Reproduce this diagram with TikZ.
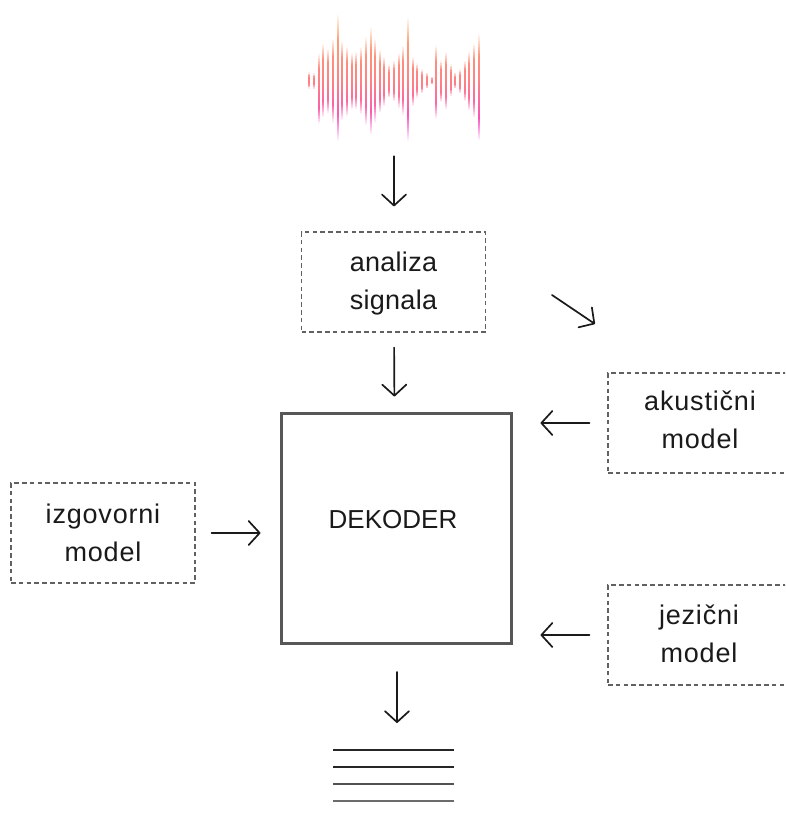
\documentclass[tikz,border=0pt]{standalone}
\usepackage{fontspec}
\setmainfont{Liberation Sans}
\newfontfamily\widesans[LetterSpace=3]{Liberation Sans}
\newfontfamily\midsans[LetterSpace=1]{Liberation Sans}
\usetikzlibrary{arrows.meta}
\definecolor{ink}{HTML}{1A1A1A}
\tikzset{
  dashbox/.style={draw=black!62,line width=1.2pt,dash pattern=on 4.6pt off 3.2pt,minimum width=184pt,minimum height=100pt,inner sep=0pt},
  lbl/.style={inner sep=0pt,align=center,text=ink,font=\widesans\fontsize{27}{38}\selectfont},
  decoder/.style={draw=black!66,line width=3pt,minimum width=230pt,minimum height=230pt,inner sep=0pt},
  arr/.style={draw=ink,line width=1.7pt,line cap=round,-{Straight Barb[length=11pt,width=24pt,line width=1.7pt,round]}},
  spacer/.style={inner sep=0pt,minimum width=245pt,minimum height=127pt}
}
\begin{document}
\begin{tikzpicture}[x=1pt,y=-1pt]
\useasboundingbox (0,0) rectangle (785,814);
\clip (0,0) rectangle (785,814);
% waveform
\foreach \zx/\zt/\zb in {42/217/262,57/220/262,71/160/368,85/130/350,99/145/338,113/115/365,128/40/420,142/122/358,156/138/345,170/158/325,184/155/325,198/140/340,212/108/372,227/78/400,241/115/365,254/147/335,268/170/315,283/192/290,297/182/300,311/160/320,325/137/342,339/50/420,353/170/315,367/190/290,381/207/275,396/218/262,410/230/250,424/135/352,438/180/302,453/155/325,467/193/285,481/218/262,495/207/275,509/182/300,523/153/328,537/130/350,551/100/418}{
  \pgfmathsetmacro{\bx}{295+\zx/3}
  \pgfmathsetmacro{\bt}{\zt/3}
  \pgfmathsetmacro{\bb}{\zb/3}
  \pgfmathsetmacro{\bnext}{\bt+1.5}
  \foreach \sy in {\bt,\bnext,...,\bb}{
    \pgfmathsetmacro{\tv}{(\sy-10)/130}
    \pgfmathsetmacro{\cr}{\tv<0.55 ? 0.99+(1.00-0.99)*\tv/0.55 : 1.00-0.03*(\tv-0.55)/0.45}
    \pgfmathsetmacro{\cg}{\tv<0.55 ? 0.70-(0.70-0.50)*\tv/0.55 : 0.50-0.28*(\tv-0.55)/0.45}
    \pgfmathsetmacro{\cb}{\tv<0.55 ? 0.42+(0.52-0.42)*\tv/0.55 : 0.52+0.32*(\tv-0.55)/0.45}
    \pgfmathsetmacro{\fv}{min(1,(min(\sy-\bt,\bb-\sy)+0.8)/(0.4*(\bb-\bt)/2+1.5))}
    \pgfmathsetmacro{\mr}{1-\fv*(1-\cr)}
    \pgfmathsetmacro{\mg}{1-\fv*(1-\cg)}
    \pgfmathsetmacro{\mb}{1-\fv*(1-\cb)}
    \definecolor{wavecol}{rgb}{\mr,\mg,\mb}
    \fill[wavecol] (\bx-0.85,\sy) rectangle (\bx+0.85,\sy+1.7);
  }
}
\node[spacer] (wave) at (394,76.5) {};
% boxes
\node[dashbox] (analiza) at (393.5,282) {};
\node[decoder] (dek) at (396,528) {};
\node[dashbox] (akus) at (700,423) {};
\node[dashbox] (jez) at (700,635) {};
\node[dashbox] (izg) at (103,533) {};
% labels
\node[lbl,font=\midsans\fontsize{27}{38}\selectfont] (analizaT) at (393.5,284) {analiza\\signala};
\node[lbl,font=\rmfamily\fontsize{26}{38}\selectfont] (dekT) at (393,520) {DEKODER};
\node[lbl] (akusT) at (700,420) {akustični\\model};
\node[lbl] (jezT) at (699,633.5) {jezični\\model};
\node[lbl] (izgT) at (103,533) {izgovorni\\model};
% free ends
\coordinate (diagA) at (552,295);
\coordinate (diagB) at (595,324);
\coordinate (outTop) at (397,750);
\coordinate (dekOut) at (397,643);
% connectors
\draw[arr,shorten <=16pt,shorten >=25pt] (wave.south) -- (wave.south |- analiza.north);
\draw[arr,shorten <=15pt,shorten >=15pt] ([xshift=.5pt]analiza.south) -- ([xshift=-1.5pt]dek.north);
\draw[arr] (diagA) -- (diagB);
\draw[arr,shorten <=18pt,shorten >=28pt] (akus.west) -- (akus.west -| dek.east);
\draw[arr,shorten <=18pt,shorten >=28pt] (jez.west) -- (jez.west -| dek.east);
\draw[arr,shorten <=16pt,shorten >=19pt] (izg.east) -- (izg.east -| dek.west);
\draw[arr,shorten <=29pt,shorten >=27pt] (dekOut) -- (outTop);
% output lines
\draw[draw=black!85,line width=1.1pt] (333,750) -- (454,750);
\draw[draw=black!85,line width=1.3pt] (333,767) -- (454,767);
\draw[draw=black!68,line width=1.6pt] (333,784) -- (454,784);
\draw[draw=black!58,line width=2pt] (333,801) -- (454,801);
\end{tikzpicture}
\end{document}
